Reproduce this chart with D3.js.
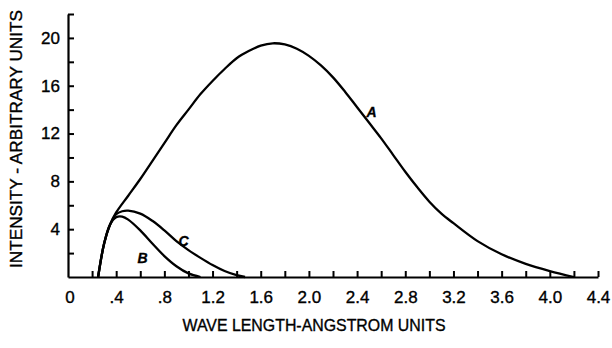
<!DOCTYPE html>
<html><head><meta charset="utf-8">
<script src="https://cdn.jsdelivr.net/npm/d3@7"></script>
<style>
html,body{margin:0;padding:0;background:#fff;}
svg{display:block;}
text{font-family:"Liberation Sans",Arial,sans-serif;fill:#000;stroke:#000;stroke-width:0.35px;}
</style></head>
<body>
<svg id="chart" width="612" height="348"></svg>
<script>
// Data
const aWave = [0.25,0.3,0.35,0.4,0.5,0.6,0.7,0.8,0.9,1.0,1.1,1.2,1.3,1.4,1.5,1.6,1.7,1.8,1.9,2.0,2.1,2.2,2.3,2.4,2.5,2.6,2.7,2.8,2.9,3.0,3.1,3.2,3.4,3.6,3.8,4.0,4.2];
const aInt  = [0,2.8,4.4,5.4,6.8,8.2,9.7,11.2,12.7,14.0,15.3,16.4,17.4,18.3,18.9,19.35,19.55,19.45,19.1,18.5,17.7,16.7,15.5,14.2,12.9,11.6,10.2,8.8,7.5,6.3,5.3,4.5,3.0,1.9,1.1,0.5,0];
const bWave = [0.25,0.3,0.35,0.4,0.45,0.5,0.6,0.7,0.8,0.9,1.0,1.1];
const bInt  = [0,2.8,4.4,5.0,5.05,4.8,3.9,2.8,1.75,0.9,0.3,0];
const cWave = [0.25,0.3,0.35,0.4,0.45,0.5,0.6,0.7,0.8,0.9,1.0,1.1,1.2,1.3,1.4,1.47];
const cInt  = [0,2.8,4.4,5.25,5.5,5.55,5.3,4.7,3.9,3.0,2.25,1.6,1.0,0.5,0.15,0];
const curveLabels = ["A","B","C"];
const xTickLabels = {"0":"0","0.4":".4","0.8":".8","1.2":"1.2","1.6":"1.6","2":"2.0","2.4":"2.4","2.8":"2.8","3.2":"3.2","3.6":"3.6","4":"4.0","4.4":"4.4"};
const yTickLabels = [4,8,12,16,20];
const xTitle = "WAVE LENGTH-ANGSTROM UNITS";
const yTitle = "INTENSITY - ARBITRARY UNITS";

const svg = d3.select("#chart");
const x = d3.scaleLinear().domain([0,4.4]).range([68,598]);
const y = d3.scaleLinear().domain([0,22]).range([277,14]);

const xTicks = d3.range(1,23).map(i => +(i*0.2).toFixed(1));
const xAxis = d3.axisBottom(x).tickValues(xTicks).tickSize(-6).tickSizeOuter(0).tickPadding(14)
  .tickFormat(d => xTickLabels[String(d)] || "");
const gx = svg.append("g").attr("transform","translate(0,277)").call(xAxis);
gx.selectAll("text").style("font-size","17px");
svg.append("text").attr("x",x(0)+2).attr("y",277+14).attr("dy","0.71em").attr("text-anchor","middle")
  .style("font-size","17px").text(xTickLabels["0"]);

const yTicks = d3.range(1,12).map(i => i*2);
const yAxis = d3.axisLeft(y).tickValues(yTicks).tickSize(-6).tickSizeOuter(0).tickPadding(8)
  .tickFormat(d => yTickLabels.includes(d) ? String(d) : "");
const gy = svg.append("g").attr("transform","translate(68,0)").call(yAxis);
gy.selectAll("text").style("font-size","17px");

[gx,gy].forEach(g => {
  g.select(".domain").attr("stroke","#000").attr("stroke-width",2.2);
  g.selectAll(".tick line").attr("stroke","#000").attr("stroke-width",2);
});

const line = d3.line().x(d => x(d[0])).y(d => y(Math.max(0,d[1]))).curve(d3.curveCatmullRom.alpha(0.5));
[[aWave,aInt],[bWave,bInt],[cWave,cInt]].forEach(([w,v]) => {
  svg.append("path").datum(w.map((d,i)=>[d,v[i]]))
    .attr("d",line).attr("fill","none").attr("stroke","#000").attr("stroke-width",2.3)
    .attr("stroke-linejoin","round");
});

const labelPos = [[2.52,13.8],[0.62,1.6],[0.96,3.0]];
curveLabels.forEach((t,i) => {
  svg.append("text").attr("x",x(labelPos[i][0])).attr("y",y(labelPos[i][1]))
    .attr("text-anchor","middle").attr("dy","0.35em")
    .style("font-size","14px").style("font-weight","bold").style("font-style","italic").text(t);
});

svg.append("text").attr("x",314).attr("y",325).attr("dy","0.35em").attr("text-anchor","middle")
  .attr("textLength",263).attr("lengthAdjust","spacingAndGlyphs")
  .style("font-size","17px").text(xTitle);
svg.append("text").attr("transform","translate(16,139) rotate(-90)").attr("dy","0.35em")
  .attr("text-anchor","middle").attr("textLength",258).attr("lengthAdjust","spacingAndGlyphs")
  .style("font-size","17px").text(yTitle);
</script>
</body></html>
